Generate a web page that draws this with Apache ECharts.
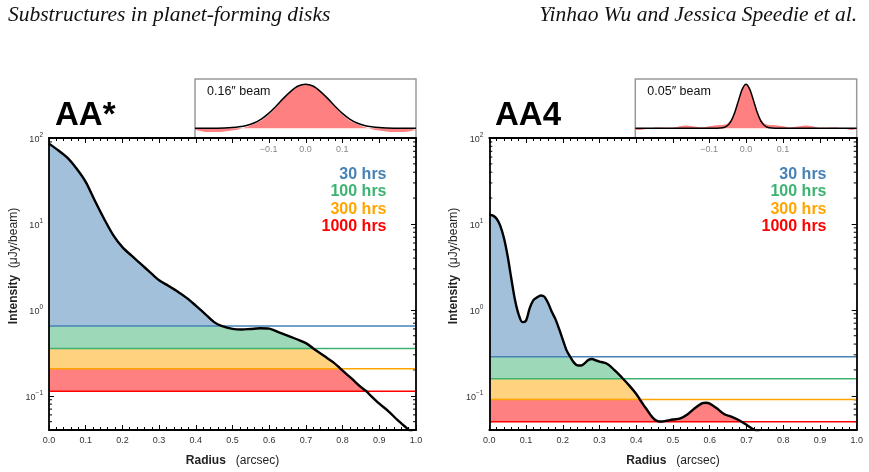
<!DOCTYPE html>
<html>
<head>
<meta charset="utf-8">
<script src="https://cdn.jsdelivr.net/npm/echarts@6/dist/echarts.min.js"></script>
<style>
  html, body { margin: 0; padding: 0; background: #fff; }
  #main { width: 869px; height: 472px; }
</style>
</head>
<body>
<div id="main"></div>
<script>
// radial profiles (radius in arcsec, intensity in uJy/beam)
const radiusAA = [0, 0.025, 0.05, 0.075, 0.1, 0.125, 0.15, 0.175, 0.2, 0.225, 0.25, 0.275, 0.3, 0.325, 0.35, 0.375, 0.4, 0.425, 0.45, 0.47, 0.5, 0.525, 0.55, 0.575, 0.6, 0.625, 0.65, 0.675, 0.7, 0.72, 0.75, 0.775, 0.794, 0.825, 0.85, 0.865, 0.875, 0.9, 0.925, 0.95, 0.975, 1.0]
const intensityAA = [86, 72, 59, 44.2, 30.9, 18.6, 11.5, 7.41, 5.37, 4.27, 3.43, 2.75, 2.21, 1.91, 1.64, 1.38, 1.12, 0.9, 0.72, 0.65, 0.6, 0.59, 0.6, 0.61, 0.605, 0.55, 0.5, 0.455, 0.41, 0.356, 0.29, 0.245, 0.207, 0.158, 0.126, 0.113, 0.102, 0.081, 0.066, 0.052, 0.042, 0.034]

const radiusAA4 = [0, 0.01, 0.02, 0.03, 0.04, 0.05, 0.06, 0.07, 0.08, 0.09, 0.1, 0.11, 0.12, 0.13, 0.14, 0.15, 0.16, 0.17, 0.18, 0.19, 0.2, 0.21, 0.22, 0.23, 0.24, 0.25, 0.26, 0.27, 0.28, 0.29, 0.3, 0.31, 0.32, 0.33, 0.34, 0.35, 0.364, 0.38, 0.4, 0.41, 0.42, 0.43, 0.44, 0.45, 0.46, 0.47, 0.48, 0.5, 0.52, 0.54, 0.56, 0.58, 0.59, 0.6, 0.62, 0.64, 0.66, 0.68, 0.69, 0.7, 0.72, 0.74]
const intensityAA4 = [12.8, 12.5, 11.5, 9.5, 6.8, 4.2, 2.3, 1.3, 0.88, 0.72, 0.75, 1.05, 1.3, 1.4, 1.47, 1.42, 1.2, 0.95, 0.78, 0.6, 0.45, 0.34, 0.285, 0.245, 0.226, 0.225, 0.24, 0.262, 0.268, 0.258, 0.25, 0.244, 0.236, 0.22, 0.2, 0.182, 0.158, 0.133, 0.105, 0.0904, 0.078, 0.068, 0.059, 0.053, 0.0505, 0.0502, 0.051, 0.053, 0.0545, 0.061, 0.072, 0.082, 0.083, 0.081, 0.071, 0.061, 0.057, 0.052, 0.049, 0.046, 0.0405, 0.036]

// noise levels for each integration time
const hrsLabels = ['30 hrs', '100 hrs', '300 hrs', '1000 hrs']
const levelsAA = [0.65, 0.356, 0.207, 0.113]
const levelsAA4 = [0.285, 0.158, 0.0904, 0.05]

// beam insets (offset in arcsec, normalised profile)
const beamXAA = [-0.3, -0.28, -0.26, -0.24, -0.22, -0.2, -0.18, -0.16, -0.14, -0.12, -0.1, -0.08, -0.06, -0.04, -0.02, 0, 0.02, 0.04, 0.06, 0.08, 0.1, 0.12, 0.14, 0.16, 0.18, 0.2, 0.22, 0.24, 0.26, 0.28, 0.3]
const beamAA = [0, 0.001, 0.002, 0.004, 0.008, 0.016, 0.033, 0.065, 0.12, 0.21, 0.34, 0.5, 0.68, 0.84, 0.96, 1, 0.96, 0.84, 0.68, 0.5, 0.34, 0.21, 0.12, 0.065, 0.033, 0.016, 0.008, 0.004, 0.002, 0.001, 0]
const psfAA = [-0.04, -0.07, -0.085, -0.085, -0.07, -0.05, -0.02, 0.03, 0.1, 0.18, 0.31, 0.48, 0.665, 0.83, 0.955, 1, 0.955, 0.83, 0.665, 0.48, 0.31, 0.18, 0.1, 0.03, -0.02, -0.05, -0.07, -0.085, -0.085, -0.07, -0.04]

const beamXAA4 = [-0.3, -0.28, -0.26, -0.24, -0.22, -0.2, -0.18, -0.16, -0.14, -0.12, -0.1, -0.09, -0.08, -0.07, -0.06, -0.05, -0.04, -0.03, -0.02, -0.01, 0, 0.01, 0.02, 0.03, 0.04, 0.05, 0.06, 0.07, 0.08, 0.09, 0.1, 0.12, 0.14, 0.16, 0.18, 0.2, 0.22, 0.24, 0.26, 0.28, 0.3]
const beamAA4 = [0, 0, 0, 0, 0, 0, 0, 0, 0, 0, 0, 0, 0.001, 0.005, 0.02, 0.065, 0.17, 0.37, 0.64, 0.89, 1, 0.89, 0.64, 0.37, 0.17, 0.065, 0.02, 0.005, 0.001, 0, 0, 0, 0, 0, 0, 0, 0, 0, 0, 0, 0]
const psfAA4 = [-0.04, -0.03, 0, 0.02, 0.015, 0.01, 0.045, 0.065, 0.04, 0.02, 0.045, 0.06, 0.07, 0.075, 0.08, 0.11, 0.21, 0.4, 0.66, 0.9, 1, 0.9, 0.66, 0.4, 0.21, 0.11, 0.08, 0.075, 0.07, 0.06, 0.045, 0.02, 0.04, 0.065, 0.045, 0.01, 0.015, 0.02, 0, -0.03, -0.04]

// log-axis minor ticks (2..9 x 10^n)
const mantissas = [2, 3, 4, 5, 6, 7, 8, 9]
const decades = [0.01, 0.1, 1, 10]

const lineColors = ['#4682b4', '#3cb371', '#ffa500', '#ff0000']
const fillColors = ['#a2c0d9', '#9dd9b8', '#ffd27f', '#ff8080']
const SANS = '"Liberation Sans", Arial, Helvetica, sans-serif'
const SERIF = '"Liberation Serif", "Times New Roman", serif'
const YMIN = 0.04
const YMAX = 100

const panels = [
  { left: 49, width: 367, name: 'AA*', x: radiusAA, y: intensityAA, levels: levelsAA, bx: beamXAA, beam: beamAA, psf: psfAA, beamText: '0.16\u2033 beam' },
  { left: 489.3, width: 367.4, name: 'AA4', x: radiusAA4, y: intensityAA4, levels: levelsAA4, bx: beamXAA4, beam: beamAA4, psf: psfAA4, beamText: '0.05\u2033 beam' }
]

const minorTicks = []
decades.forEach(d => mantissas.forEach(m => {
  const v = +(d * m).toPrecision(3)
  if (v >= YMIN && v <= YMAX) minorTicks.push(v)
}))

const supLabel = v => {
  const e = Math.round(Math.log10(v))
  return '{b|10}{s|' + (e < 0 ? '\u2212' + (-e) : e) + '}'
}

const grid = []
const xAxis = []
const yAxis = []
const series = []
const graphic = []

panels.forEach((p, i) => {
  const g = i * 2
  const xa = i * 3
  const ya = i * 4
  grid.push({ left: p.left, top: 138, width: p.width, height: 293 })
  grid.push({ left: p.left + 146, top: 79, width: p.width - 146, height: 59, show: true, borderColor: '#999', borderWidth: 1.5, backgroundColor: 'transparent' })

  const xCommon = {
    gridIndex: g, type: 'value', min: 0, max: 1, interval: 0.1,
    axisLine: { lineStyle: { color: '#000', width: 1.8 } },
    axisTick: { inside: true, length: 5, lineStyle: { color: '#000', width: 1 } },
    minorTick: { show: true, splitNumber: 5, length: 3, lineStyle: { color: '#000', width: 1 } },
    splitLine: { show: false }, minorSplitLine: { show: false },
    z: 6
  }
  xAxis.push(Object.assign({}, xCommon, {
    position: 'bottom',
    axisLabel: { formatter: v => v.toFixed(1), color: '#333', fontSize: 9, fontFamily: SANS, margin: 6 },
    name: '{b|Radius}   (arcsec)', nameLocation: 'middle', nameGap: 25,
    nameTextStyle: { fontSize: 12, color: '#222', fontFamily: SANS, rich: { b: { fontSize: 12, fontWeight: 'bold', color: '#222', fontFamily: SANS } } }
  }))
  xAxis.push(Object.assign({}, xCommon, { position: 'top', axisLabel: { show: false } }))
  xAxis.push({
    gridIndex: g + 1, type: 'value', min: -0.3, max: 0.3, interval: 0.1, position: 'bottom',
    axisLine: { show: false }, axisTick: { show: false }, splitLine: { show: false },
    axisLabel: {
      formatter: v => Math.abs(v) < 0.15 ? (v < -0.01 ? '\u2212' : '') + Math.abs(v).toFixed(1) : '',
      color: '#888', fontSize: 9, fontFamily: SANS, margin: 7
    },
    z: 7
  })

  const yCommon = { gridIndex: g, type: 'log', logBase: 10, min: YMIN, max: YMAX, splitLine: { show: false } }
  yAxis.push(Object.assign({}, yCommon, {
    position: 'left', axisLine: { show: false },
    axisTick: { inside: true, length: 5, lineStyle: { color: '#000', width: 1 } },
    axisLabel: {
      formatter: supLabel, showMinLabel: false, margin: 6,
      rich: {
        b: { fontSize: 9, color: '#333', fontFamily: SANS, lineHeight: 13, verticalAlign: 'bottom' },
        s: { fontSize: 6.5, color: '#333', fontFamily: SANS, lineHeight: 8, verticalAlign: 'top' }
      }
    },
    z: 1
  }))
  yAxis.push(Object.assign({}, yCommon, {
    position: 'left', axisLine: { show: true, lineStyle: { color: '#000', width: 1.8 } },
    axisTick: { show: false }, axisLabel: { show: false }, z: 6
  }))
  yAxis.push(Object.assign({}, yCommon, {
    position: 'right', axisLine: { show: true, lineStyle: { color: '#000', width: 1.8 } },
    axisTick: { inside: true, length: 5, lineStyle: { color: '#000', width: 1 } },
    axisLabel: { show: false }, z: 6
  }))
  yAxis.push({ gridIndex: g + 1, type: 'value', min: -0.22, max: 1.12, show: false })

  // minor ticks of the log axes
  series.push({
    type: 'custom', xAxisIndex: xa, yAxisIndex: ya, silent: true, z: 1,
    data: minorTicks.map(v => [0, v]),
    renderItem: (params, api) => {
      const v = api.value(1)
      const a = api.coord([0, v])
      const b = api.coord([1, v])
      return {
        type: 'group',
        children: [
          { type: 'line', shape: { x1: a[0], y1: a[1], x2: a[0] + 3, y2: a[1] }, style: { stroke: '#000', lineWidth: 1 } },
          { type: 'line', shape: { x1: b[0] - 3, y1: b[1], x2: b[0], y2: b[1] }, style: { stroke: '#000', lineWidth: 1 } }
        ]
      }
    }
  })

  // coloured bands between noise levels, bounded by the profile
  p.levels.forEach((lo, k) => {
    const hi = k === 0 ? Infinity : p.levels[k - 1]
    series.push({
      type: 'line', xAxisIndex: xa, yAxisIndex: ya, silent: true, z: 2,
      showSymbol: false, lineStyle: { width: 0, opacity: 0 },
      areaStyle: { color: fillColors[k], opacity: 1, origin: lo },
      data: p.x.map((xx, j) => [xx, Math.min(Math.max(p.y[j], lo), hi)])
    })
  })
  p.levels.forEach((lv, k) => {
    series.push({
      type: 'line', xAxisIndex: xa, yAxisIndex: ya, silent: true, z: 3,
      showSymbol: false, lineStyle: { color: lineColors[k], width: 1.5 },
      data: [[0, lv], [1, lv]]
    })
  })
  series.push({
    type: 'line', xAxisIndex: xa, yAxisIndex: ya, silent: true, z: 4,
    showSymbol: false, smooth: 0.3, lineStyle: { color: '#000', width: 2.4 },
    data: p.x.map((xx, j) => [xx, p.y[j]])
  })

  // beam inset
  series.push({
    type: 'line', xAxisIndex: xa + 2, yAxisIndex: ya + 3, silent: true, z: 2,
    showSymbol: false, smooth: 0.3, lineStyle: { width: 0, opacity: 0 },
    areaStyle: { color: '#ff8080', opacity: 1, origin: 0 },
    data: p.bx.map((xx, j) => [xx, p.psf[j]])
  })
  series.push({
    type: 'line', xAxisIndex: xa + 2, yAxisIndex: ya + 3, silent: true, z: 3,
    showSymbol: false, smooth: 0.3, lineStyle: { color: '#000', width: 1.5 },
    data: p.bx.map((xx, j) => [xx, p.beam[j]])
  })

  const off = i * 440
  graphic.push({ type: 'text', x: 55 + off, y: 116, style: { text: p.name, font: 'bold 33px ' + SANS, fill: '#000', verticalAlign: 'middle' } })
  graphic.push({ type: 'text', x: p.left + 158, y: 92, style: { text: p.beamText, font: '12.5px ' + SANS, fill: '#111', verticalAlign: 'middle' } })
  hrsLabels.forEach((t, k) => {
    graphic.push({ type: 'text', x: 386.5 + off, y: 174.5 + k * 17.4, style: { text: t, font: 'bold 16px ' + SANS, fill: lineColors[k], align: 'right', verticalAlign: 'middle' } })
  })
  graphic.push({
    type: 'text', x: 14 + off, y: 266, rotation: Math.PI / 2,
    style: {
      text: '{b|Intensity}  (\u03bcJy/beam)', font: '12px ' + SANS, fill: '#222', align: 'center', verticalAlign: 'middle',
      rich: { b: { font: 'bold 12px ' + SANS, fill: '#222' } }
    }
  })
})

graphic.push({ type: 'text', x: 8, y: 15, style: { text: 'Substructures in planet-forming disks', font: 'italic 21.5px ' + SERIF, fill: '#111', verticalAlign: 'middle' } })
graphic.push({ type: 'text', x: 857, y: 15, style: { text: 'Yinhao Wu and Jessica Speedie et al.', font: 'italic 21.5px ' + SERIF, fill: '#111', align: 'right', verticalAlign: 'middle' } })

const chart = echarts.init(document.getElementById('main'))
chart.setOption({
  animation: false,
  backgroundColor: '#fff',
  grid,
  xAxis,
  yAxis,
  series,
  graphic
})
</script>
</body>
</html>
